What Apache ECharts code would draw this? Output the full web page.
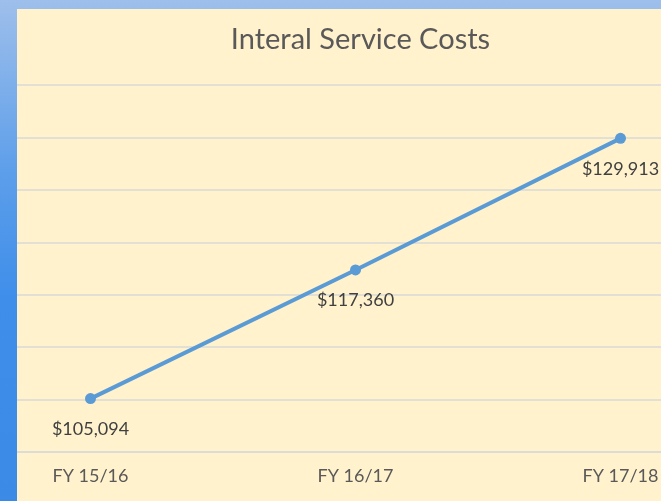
<!DOCTYPE html>
<html>
<head>
<meta charset="utf-8">
<script src="https://cdn.jsdelivr.net/npm/echarts@6/dist/echarts.min.js"></script>
<style>
  html, body { margin: 0; padding: 0; width: 661px; height: 501px; overflow: hidden; }
  body { background: linear-gradient(to bottom, #9ebfeb 0%, #5c9eea 35%, #3e8eea 60%, #3b8ae6 100%); position: relative; }
  #panel { position: absolute; left: 17px; top: 9px; width: 644px; height: 492px; background: #fff2cc; overflow: hidden; }
  /* plot area is wider than the visible panel (cropped like the original) */
  #chart { position: absolute; left: -59.5px; top: 0; width: 795px; height: 492px; }
</style>
</head>
<body>
<div id="panel"><div id="chart"></div></div>
<script>
// 年度数据
const categories = ["FY 15/16", "FY 16/17", "FY 17/18"];
const costValues = [105094, 117360, 129913];
const titleText = "Interal Service Costs";

const chartInstance = echarts.init(document.getElementById("chart"));
const fmt = (v) => "$" + v.toLocaleString("en-US");

const option = {
  backgroundColor: "transparent",
  animation: false,
  title: {
    text: titleText,
    left: 397.5,
    top: 11,
    textAlign: "center",
    textStyle: {
      color: "#595959",
      fontFamily: "Lato",
      fontWeight: "normal",
      fontSize: 29,
    },
  },
  grid: {
    left: 0,
    right: 0,
    top: 76,
    bottom: 49,
    containLabel: false,
  },
  xAxis: {
    type: "category",
    data: categories,
    axisLine: { show: true, lineStyle: { color: "#d9d9d9", width: 1.5 } },
    axisTick: { show: false },
    axisLabel: {
      color: "#595959",
      fontFamily: "Lato",
      fontSize: 18,
      margin: 15,
    },
  },
  yAxis: {
    type: "value",
    min: 100000,
    max: 135000,
    interval: 5000,
    axisLabel: { show: false },
    axisLine: { show: false },
    axisTick: { show: false },
    splitLine: { lineStyle: { color: "#d9d9d9", width: 1.5 } },
  },
  series: [
    {
      name: "Costs",
      type: "line",
      data: costValues,
      symbol: "circle",
      symbolSize: 11,
      lineStyle: { color: "#5b9bd5", width: 4 },
      itemStyle: { color: "#5b9bd5" },
      label: {
        show: true,
        position: "bottom",
        distance: 16,
        color: "#404040",
        fontFamily: "Lato",
        fontSize: 18,
        formatter: (p) => fmt(p.value),
      },
    },
  ],
};
chartInstance.setOption(option);
</script>
</body>
</html>
